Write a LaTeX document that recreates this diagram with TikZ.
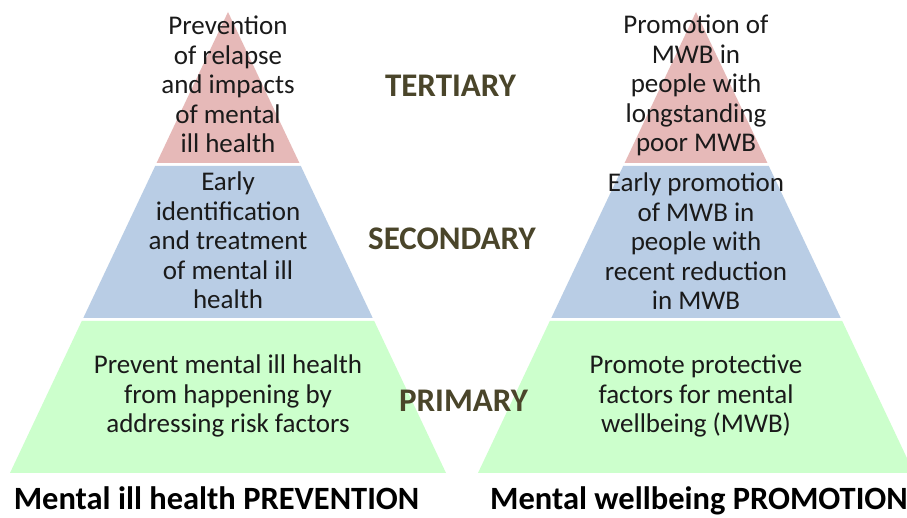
\documentclass[tikz,border=0pt]{standalone}
\usepackage{fontspec}
\setmainfont{Carlito}
\definecolor{tertc}{HTML}{E6B9B8}
\definecolor{secc}{HTML}{B9CDE5}
\definecolor{primc}{HTML}{CCFFCC}
\definecolor{lvl}{HTML}{4A452A}
\definecolor{txt}{HTML}{1A1A1A}
\tikzset{
  body/.style={font=\fontsize{27}{29.5}\selectfont, align=center, inner sep=0pt, anchor=base, text=txt},
  level/.style={font=\fontsize{33}{36}\selectfont\bfseries, inner sep=0pt, anchor=base, text=lvl},
  caption/.style={font=\fontsize{32.5}{36}\selectfont\bfseries, inner sep=0pt, anchor=base, text=black},
}
\begin{document}
\begin{tikzpicture}[x=1pt,y=1pt]
\useasboundingbox (0,0) rectangle (907,518);
\clip (0,0) rectangle (907,518);
\fill[white] (0,0) rectangle (907,518);
\foreach \c in {228,696}{
  \fill[tertc] (\c,506) -- (\c-71.4,355) -- (\c+71.4,355) -- cycle;
  \fill[secc] (\c-72.8,352) -- (\c+72.8,352) -- (\c+144.7,200) -- (\c-144.7,200) -- cycle;
  \fill[primc] (\c-146.2,197) -- (\c+146.2,197) -- (\c+218,45) -- (\c-218,45) -- cycle;
}
\node[body] (lt) at (228,365) {Prevention\\of relapse\\and impacts\\of mental\\ill health};
\node[body] (ls) at (228,209) {Early\\identification\\and treatment\\of mental ill\\health};
\node[body] (lp) at (228,85) {Prevent mental ill health\\from happening by\\addressing risk factors};
\node[body] (rt) at (696,366) {Promotion of\\MWB in\\people with\\longstanding\\poor MWB};
\node[body] (rs) at (696,208) {Early promotion\\of MWB in\\people with\\recent reduction\\in MWB};
\node[body] (rp) at (696,85) {Promote protective\\factors for mental\\wellbeing (MWB)};
\node[level] (tert) at (450.5,421) {TERTIARY};
\node[level] (sec) at (452,268) {SECONDARY};
\node[level] (prim) at (463.5,106) {PRIMARY};
\node[caption] (capl) at (216.5,8) {Mental ill health PREVENTION};
\node[caption] (capr) at (699,8) {Mental wellbeing PROMOTION};
\end{tikzpicture}
\end{document}
